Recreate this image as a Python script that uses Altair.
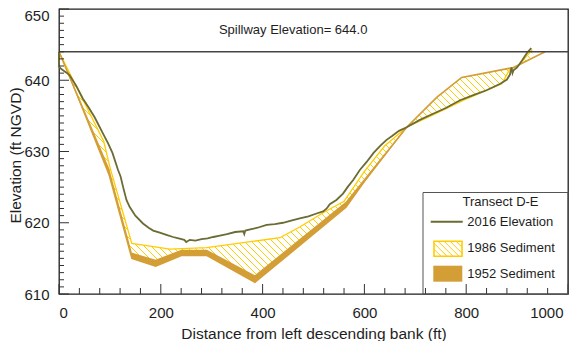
import altair as alt
import numpy as np
import pandas as pd

# ---------------- scales / layout ----------------
X_DOMAIN = [0, 1000]
Y_DOMAIN = [610, 650]
W, H = 509, 285

OLIVE = "#6b6b33"
YELLOW = "#ffcc00"
TAN = "#d39e36"
INK = "#1e1e1e"
FONT = "Liberation Sans"

# ---------------- data ----------------
x_ticks_major = [0, 200, 400, 600, 800, 1000]
y_ticks_major = [610, 620, 630, 640, 650]

x2016 = [0, 0, 4, 8, 14, 21, 34, 47, 58, 70, 86.5, 96, 105, 116, 121, 126, 132.5, 139, 150, 165,
         176, 185, 198, 211, 224, 235, 246, 250, 257, 268, 280, 292, 303, 316, 330, 346, 362, 364,
         366, 378, 390, 408, 424, 440, 456, 473, 490, 506, 519, 526, 532, 545, 558, 568, 578, 591,
         604, 618, 631, 643, 655, 668, 683, 708, 735, 760, 788, 814, 840, 867, 880, 886, 889, 891,
         893, 900, 910, 920, 928]
y2016 = [644.0, 641.9, 641.6, 641.4, 641.1, 640.7, 639.2, 637.4, 636.2, 634.8, 632.5, 631.2, 629.8,
         627.4, 626.5, 625.0, 623.2, 622.2, 621.0, 619.9, 619.3, 618.9, 618.6, 618.3, 618.0, 617.8,
         617.6, 617.3, 617.6, 617.5, 617.7, 617.8, 618.0, 618.2, 618.4, 618.7, 618.8, 618.4, 618.9,
         619.1, 619.3, 619.7, 619.8, 620.0, 620.3, 620.6, 620.9, 621.3, 621.6, 622.0, 622.6, 623.2,
         624.1, 625.1, 626.0, 627.4, 628.5, 629.8, 630.8, 631.6, 632.2, 632.9, 633.4, 634.4, 635.3,
         636.1, 637.2, 637.9, 638.6, 639.5, 640.1, 640.8, 641.8, 641.0, 641.4, 641.8, 642.8, 643.9,
         644.5]

x1986 = [0, 88, 100, 143, 218, 290, 434, 473, 519, 560, 600, 640, 683, 740, 795, 870, 886, 903, 930]
y1986 = [644.0, 631.4, 627.8, 617.1, 616.3, 616.5, 617.9, 619.4, 621.4, 623.0, 627.2, 630.8,
         633.4, 635.3, 637.2, 639.5, 641.6, 642.1, 644.3]

x1952 = [0, 97, 142, 190, 241, 290, 385, 565, 600, 683, 742, 791, 893, 955]
top1952 = [644.0, 627.6, 615.7, 614.7, 616.1, 616.1, 612.5, 622.9, 626.0, 633.4, 637.6, 640.4, 641.8, 644.0]
bot1952 = [644.0, 626.7, 614.9, 613.8, 615.3, 615.3, 611.5, 622.1, 625.6, 633.3, 637.5, 640.3, 641.7, 644.0]

spillway = [644.0]
spill_label = ["Spillway Elevation= 644.0"]

# ---------------- helpers ----------------
sx = W / (X_DOMAIN[1] - X_DOMAIN[0])
sy = H / (Y_DOMAIN[1] - Y_DOMAIN[0])


def px_to_x(px):
    return X_DOMAIN[0] + px / sx


def py_to_y(py):
    return Y_DOMAIN[1] - py / sy


xs = alt.Scale(domain=X_DOMAIN, nice=False, zero=False)
ys = alt.Scale(domain=Y_DOMAIN, nice=False, zero=False)
xaxis = alt.Axis(title="Distance from left descending bank (ft)", values=x_ticks_major,
                 ticks=False, tickSize=0, domain=False, grid=False, labelPadding=11,
                 labelOffset={"expr": "datum.value == 1000 ? -5 : 0"},
                 titleY=44, titleBaseline="alphabetic", format="d")
yaxis = alt.Axis(title="Elevation (ft NGVD)", values=y_ticks_major, ticks=False, tickSize=0,
                 domain=False, grid=False, labelPadding=10,
                 labelOffset={"expr": "datum.value == 650 ? 6 : 0"},
                 titleX=-39, titleY=146, titleBaseline="alphabetic", format="d")
X = alt.X("x:Q", scale=xs, axis=xaxis)
Y = alt.Y("y:Q", scale=ys, axis=yaxis)

# ---------------- hatch between 1986 and 1952 surfaces ----------------
fs = np.arange(0, 930.0001, 0.25)
a = np.interp(fs, x1986, y1986)
b = np.interp(fs, x1952, top1952)
lo, hi = np.minimum(a, b), np.maximum(a, b)
slope = -sx / sy
dk = 7.0 / sy
rows = []
for k in np.arange(610, 720, dk):
    L = k + slope * fs
    inside = (L > lo) & (L < hi)
    idx = np.where(inside)[0]
    if len(idx) == 0:
        continue
    breaks = np.where(np.diff(idx) > 1)[0]
    starts = np.concatenate([[idx[0]], idx[breaks + 1]])
    ends = np.concatenate([idx[breaks], [idx[-1]]])
    for s, e in zip(starts, ends):
        if e - s < 1:
            continue
        rows.append({"x": fs[s], "y": L[s], "x2": fs[e], "y2": L[e]})
hatch_df = pd.DataFrame(rows)

hatch = alt.Chart(hatch_df).mark_rule(color=YELLOW, strokeWidth=1).encode(
    x=X, y=Y, x2="x2:Q", y2="y2:Q")

df86 = pd.DataFrame({"x": x1986, "y": y1986, "i": range(len(x1986))})
line86 = alt.Chart(df86).mark_line(color=YELLOW, strokeWidth=1.3).encode(
    x=X, y=Y, order="i:Q")

df52 = pd.DataFrame({"x": x1952, "y": top1952, "y2": bot1952, "i": range(len(x1952))})
band52 = alt.Chart(df52).mark_area(color=TAN, opacity=1).encode(x=X, y=Y, y2="y2:Q")
line52 = alt.Chart(df52).mark_line(color=TAN, strokeWidth=1.6).encode(x=X, y=Y, order="i:Q")

df16 = pd.DataFrame({"x": x2016, "y": y2016, "i": range(len(x2016))})
line16 = alt.Chart(df16).mark_line(color=OLIVE, strokeWidth=1.8).encode(
    x=X, y=Y, order="i:Q")

spill = alt.Chart(pd.DataFrame({"y": spillway})).mark_rule(color="#444", strokeWidth=1.5).encode(y=Y)
spill_txt = alt.Chart(pd.DataFrame({"x": [460], "y": [647.0], "t": spill_label})).mark_text(
    font=FONT, fontSize=13, color=INK, align="center", baseline="middle").encode(x=X, y=Y, text="t:N")

# ---------------- inward ticks ----------------
ymaj = pd.DataFrame({"y": y_ticks_major})
ymin = pd.DataFrame({"y": [v for v in range(611, 650) if v % 10 != 0]})
xmaj = pd.DataFrame({"x": x_ticks_major})
xmin = pd.DataFrame({"x": [v for v in range(40, 1000, 40) if v % 200 != 0]})
tcol = "#333333"
t1 = alt.Chart(ymaj).mark_rule(color=tcol, strokeWidth=1).encode(y=Y, x=alt.value(0), x2=alt.value(10))
t2 = alt.Chart(ymin).mark_rule(color=tcol, strokeWidth=1).encode(y=Y, x=alt.value(0), x2=alt.value(5))
t3 = alt.Chart(xmaj).mark_rule(color=tcol, strokeWidth=1).encode(x=X, y=alt.value(H), y2=alt.value(H - 10))
t4 = alt.Chart(xmin).mark_rule(color=tcol, strokeWidth=1).encode(x=X, y=alt.value(H), y2=alt.value(H - 6))

# ---------------- legend (pixel layout converted to data coords) ----------------
box = pd.DataFrame({"x": [px_to_x(364)], "x2": [px_to_x(W)], "y": [py_to_y(183.5)], "y2": [py_to_y(H)]})
leg_box = alt.Chart(box).mark_rect(fill="white", fillOpacity=0, stroke="#555", strokeWidth=1).encode(
    x=X, x2="x2:Q", y=Y, y2="y2:Q")

leg_title = alt.Chart(pd.DataFrame({"x": [px_to_x(441.5)], "y": [py_to_y(192.7)], "t": ["Transect D-E"]})).mark_text(
    font=FONT, fontSize=13, color=INK, align="center", baseline="middle").encode(x=X, y=Y, text="t:N")
leg_labels = alt.Chart(pd.DataFrame({
    "x": [px_to_x(408.3)] * 3,
    "y": [py_to_y(212.7), py_to_y(238.6), py_to_y(265.0)],
    "t": ["2016 Elevation", "1986 Sediment", "1952 Sediment"]})).mark_text(
    font=FONT, fontSize=13, color=INK, align="left", baseline="middle").encode(x=X, y=Y, text="t:N")

leg_line = alt.Chart(pd.DataFrame({"x": [px_to_x(371.7)], "x2": [px_to_x(403.7)], "y": [py_to_y(212.7)]})).mark_rule(
    color=OLIVE, strokeWidth=2).encode(x=X, x2="x2:Q", y=Y)

hx0, hx1, hy0, hy1 = 375.0, 403.0, 232.2, 247.2
hrows = []
for c in np.arange(-40, 40, 6.0):
    w, h = hx1 - hx0, hy1 - hy0
    x_start = max(0.0, -c)
    x_end = min(w, h - c)
    if x_end - x_start > 0.5:
        hrows.append({"x": px_to_x(hx0 + x_start), "y": py_to_y(hy0 + x_start + c),
                      "x2": px_to_x(hx0 + x_end), "y2": py_to_y(hy0 + x_end + c)})
leg_hatch = alt.Chart(pd.DataFrame(hrows)).mark_rule(color=YELLOW, strokeWidth=1).encode(
    x=X, y=Y, x2="x2:Q", y2="y2:Q")
leg_hbox = alt.Chart(pd.DataFrame({"x": [px_to_x(hx0)], "x2": [px_to_x(hx1)], "y": [py_to_y(hy0)], "y2": [py_to_y(hy1)]})).mark_rect(
    fill="white", fillOpacity=0, stroke=YELLOW, strokeWidth=1.6).encode(x=X, x2="x2:Q", y=Y, y2="y2:Q")
leg_sbox = alt.Chart(pd.DataFrame({"x": [px_to_x(374.3)], "x2": [px_to_x(403.3)], "y": [py_to_y(256.7)], "y2": [py_to_y(272.7)]})).mark_rect(
    fill=TAN).encode(x=X, x2="x2:Q", y=Y, y2="y2:Q")

chart = alt.layer(
    hatch, line86, band52, line52, line16, spill, spill_txt,
    t1, t2, t3, t4,
    leg_box, leg_title, leg_labels, leg_line, leg_hatch, leg_hbox, leg_sbox,
).properties(
    width=W, height=H,
    autosize=alt.AutoSizeParams(type="none"),
    padding={"left": 51, "top": 1, "right": 9, "bottom": 47},
).configure_view(
    stroke=INK, strokeWidth=1.3
).configure_axis(
    labelFont=FONT, titleFont=FONT, labelFontSize=15, titleFontSize=15.5,
    labelColor=INK, titleColor=INK, titleFontWeight="normal"
)

chart.save("out.html", embed_options={"renderer": "svg", "actions": False})
